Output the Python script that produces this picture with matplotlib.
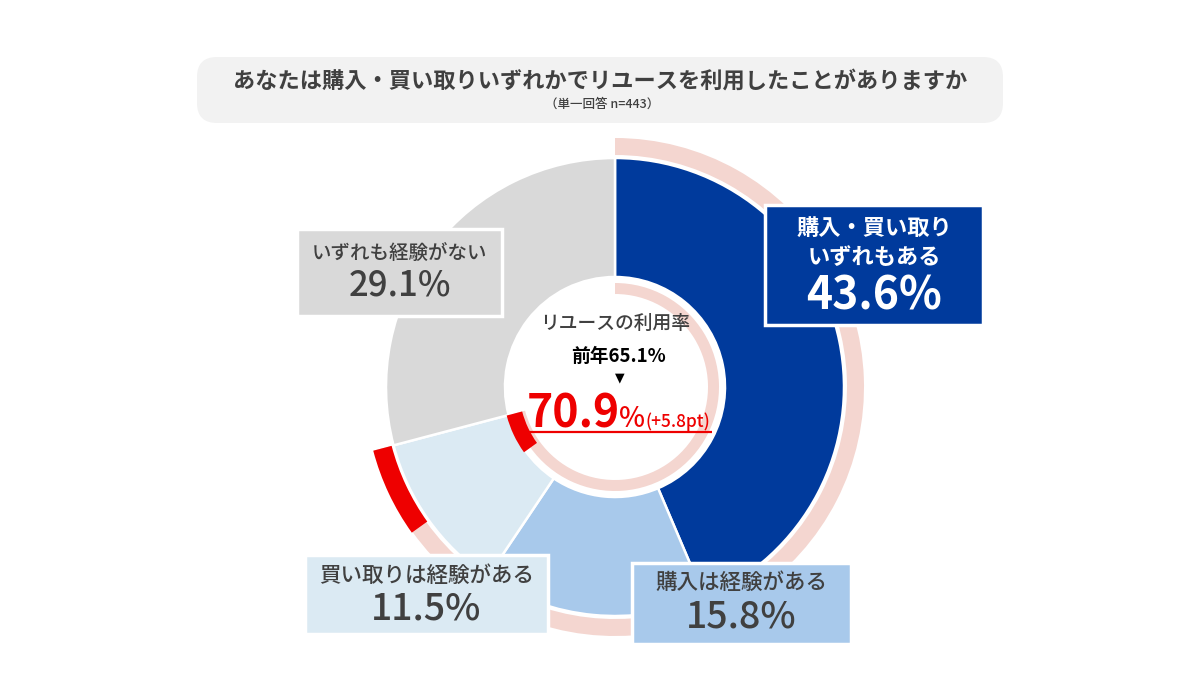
import matplotlib
matplotlib.use("Agg")
import matplotlib.pyplot as plt
from matplotlib.patches import FancyBboxPatch, Rectangle

plt.rcParams['font.family'] = ['Noto Sans CJK JP', 'DejaVu Sans']

# ---- data ----
title = "あなたは購入・買い取りいずれかでリユースを利用したことがありますか"
subtitle = "（単一回答 n=443）"
categories = ["購入・買い取り\nいずれもある", "購入は経験がある", "買い取りは経験がある", "いずれも経験がない"]
shares = [43.6, 15.8, 11.5, 29.1]
prev_rate = 65.1
rate = 70.9
increase = 5.8

slice_colors = ["#003a9c", "#a8c9eb", "#dbeaf3", "#d9d9d9"]
pink = "#f4d6d0"
red = "#ee0000"
dark = "#404040"

W, H = 1200, 675
fig = plt.figure(figsize=(12, 6.75), dpi=100)
ax = fig.add_axes([0, 0, 1, 1])

def Y(py):
    return H - py

cx, cy = 615, Y(387)

# main donut
ax.pie(shares, colors=slice_colors, startangle=90, counterclock=False,
       radius=229, center=(cx, cy),
       wedgeprops=dict(width=229 - 110, edgecolor="white", linewidth=1.8))

ring_vals = [prev_rate, rate - prev_rate, 100 - rate]
# outer ring
ax.pie(ring_vals, colors=[pink, pink, "none"], startangle=90, counterclock=False,
       radius=249, center=(cx, cy), wedgeprops=dict(width=17, linewidth=0))
ax.pie(ring_vals, colors=["none", red, "none"], startangle=90, counterclock=False,
       radius=250, center=(cx, cy), wedgeprops=dict(width=19, linewidth=0))
# inner ring
ax.pie(ring_vals, colors=[pink, pink, "none"], startangle=90, counterclock=False,
       radius=104, center=(cx, cy), wedgeprops=dict(width=11, linewidth=0))
ax.pie(ring_vals, colors=["none", red, "none"], startangle=90, counterclock=False,
       radius=112, center=(cx, cy), wedgeprops=dict(width=16, linewidth=0))

ax.set_xlim(0, W)
ax.set_ylim(0, H)
ax.set_aspect('equal')
ax.axis('off')

# title box
tb = FancyBboxPatch((197 + 20, Y(123) + 20), 806 - 40, 66 - 40,
                    boxstyle="round,pad=20", facecolor="#f2f2f2", edgecolor="none")
ax.add_patch(tb)
ax.text(600, Y(81), title, ha='center', va='center', fontsize=16,
        fontweight='bold', color=dark)
ax.text(602, Y(104), subtitle, ha='center', va='center', fontsize=9,
        color=dark, fontweight='medium')

# label boxes: (x0, y0, x1, y1) in pixels
boxes = [(765, 205, 983, 325), (632, 563, 851, 644), (305, 555, 548, 634), (297, 229, 502, 316)]
text_colors = ["white", dark, dark, dark]
label_y = [(228, 258, 297), (583, 617), (576, 608), (253, 286)]
label_fs = [16, 15.5, 15.5, 14]
pct_fs = [32, 27, 27, 25]
for i, (x0, y0, x1, y1) in enumerate(boxes):
    ax.add_patch(Rectangle((x0, Y(y1)), x1 - x0, y1 - y0, facecolor=slice_colors[i],
                           edgecolor="white", linewidth=2.5, zorder=5))
    xc = (x0 + x1) / 2
    lines = categories[i].split("\n")
    ys = label_y[i]
    wt = 'bold' if i == 0 else 'medium'
    for j, ln in enumerate(lines):
        ax.text(xc, Y(ys[j]), ln, ha='center', va='center', fontsize=label_fs[i],
                color=text_colors[i], fontweight=wt, zorder=6)
    ax.text(xc, Y(ys[-1]), f"{shares[i]:.1f}%", ha='center', va='center',
            fontsize=pct_fs[i], color=text_colors[i], fontweight=wt, zorder=6)

# center text
ax.text(615, Y(323), "リユースの利用率", ha='center', va='center', fontsize=13.5,
        color=dark, fontweight='medium')
ax.text(619, Y(356), f"前年{prev_rate:.1f}%", ha='center', va='center', fontsize=13.5,
        color="black", fontweight='bold')
ax.text(620, Y(378), "▼", ha='center', va='center', fontsize=9, color="black",
        family=['DejaVu Sans'])

fig.canvas.draw()
renderer = fig.canvas.get_renderer()
x = 527
base = Y(427)
parts = [(f"{rate:.1f}", 32, 'bold', -1), ("%", 20, 'medium', 0), (f"(+{increase:.1f}pt)", 12.5, 'medium', 0)]
inv = ax.transData.inverted()
for s, fs, wt, gap in parts:
    t = ax.text(x, base, s, ha='left', va='baseline', fontsize=fs, color=red, fontweight=wt)
    bb = t.get_window_extent(renderer=renderer)
    x = inv.transform((bb.x1, bb.y0))[0] + gap
ax.plot([527, 712], [Y(432), Y(432)], color=red, linewidth=1.6, solid_capstyle='butt')

fig.savefig("out.png", dpi=100, facecolor="white")
